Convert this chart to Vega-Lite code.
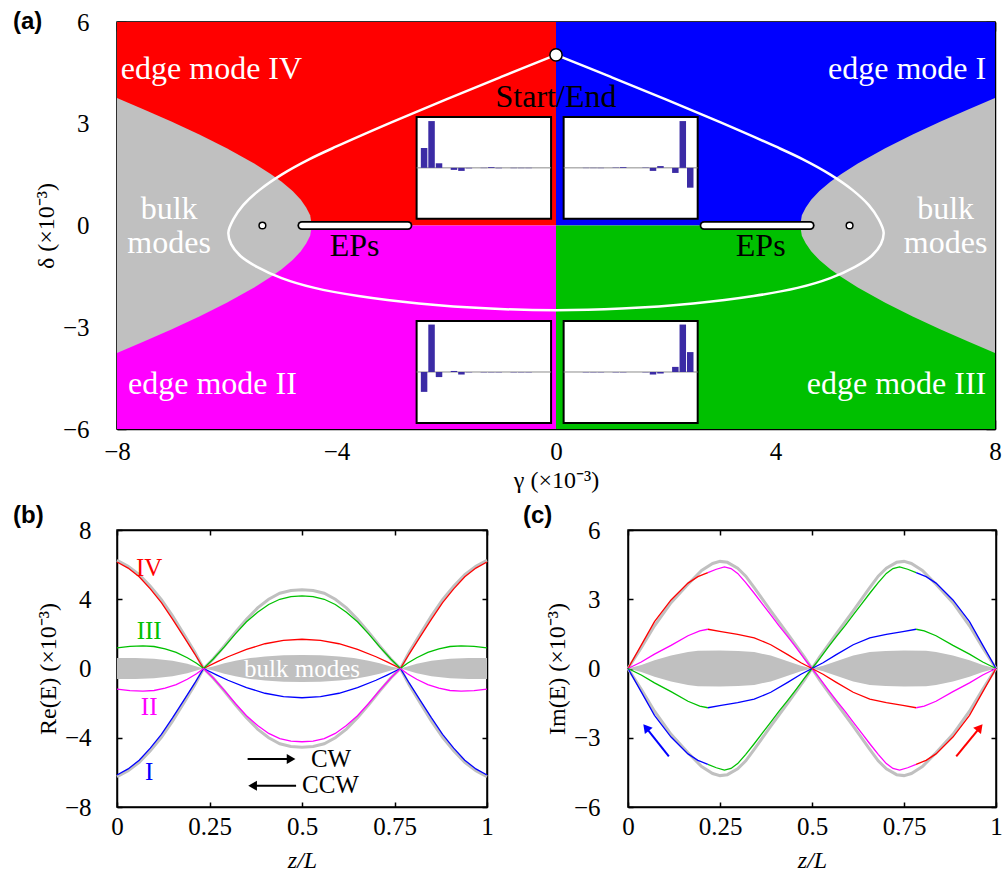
{
"$schema": "https://vega.github.io/schema/vega-lite/v6.json",
"autosize": {"type": "pad"},
"padding": {"left": 12, "top": 8, "right": 0, "bottom": 0},
"background": "white",
"config": {
  "font": "Liberation Serif",
  "view": {"stroke": "black", "strokeWidth": 1.5},
  "axis": {"grid": false, "labelFlush": false, "labelOverlap": false, "domainColor": "black", "domainWidth": 1.5, "tickColor": "black", "tickWidth": 1.5, "labelFont": "Liberation Serif", "labelFontSize": 25, "labelColor": "black", "titleFont": "Liberation Serif", "titleFontSize": 24, "titleFontWeight": "normal", "titleColor": "black", "zindex": 1}
},
"datasets": {
  "quad": [
    {"g0": -8, "g1": 0, "d0": 0, "d1": 6, "mode": "IV"},
    {"g0": 0, "g1": 8, "d0": 0, "d1": 6, "mode": "I"},
    {"g0": -8, "g1": 0, "d0": -6, "d1": 0, "mode": "II"},
    {"g0": 0, "g1": 8, "d0": -6, "d1": 0, "mode": "III"}
  ],
  "bulkA": [
    {"side": "L", "g": -8, "hi": 3.76, "lo": -3.76},
    {"side": "L", "g": -7.5, "hi": 3.41, "lo": -3.41},
    {"side": "L", "g": -7, "hi": 3.06, "lo": -3.06},
    {"side": "L", "g": -6.5, "hi": 2.68, "lo": -2.68},
    {"side": "L", "g": -6, "hi": 2.28, "lo": -2.28},
    {"side": "L", "g": -5.5, "hi": 1.83, "lo": -1.83},
    {"side": "L", "g": -5.2, "hi": 1.52, "lo": -1.52},
    {"side": "L", "g": -5, "hi": 1.29, "lo": -1.29},
    {"side": "L", "g": -4.8, "hi": 1.02, "lo": -1.02},
    {"side": "L", "g": -4.65, "hi": 0.76, "lo": -0.76},
    {"side": "L", "g": -4.55, "hi": 0.52, "lo": -0.52},
    {"side": "L", "g": -4.48, "hi": 0.3, "lo": -0.3},
    {"side": "L", "g": -4.45, "hi": 0, "lo": 0},
    {"side": "R", "g": 4.45, "hi": 0, "lo": 0},
    {"side": "R", "g": 4.48, "hi": 0.3, "lo": -0.3},
    {"side": "R", "g": 4.55, "hi": 0.52, "lo": -0.52},
    {"side": "R", "g": 4.65, "hi": 0.76, "lo": -0.76},
    {"side": "R", "g": 4.8, "hi": 1.02, "lo": -1.02},
    {"side": "R", "g": 5, "hi": 1.29, "lo": -1.29},
    {"side": "R", "g": 5.2, "hi": 1.52, "lo": -1.52},
    {"side": "R", "g": 5.5, "hi": 1.83, "lo": -1.83},
    {"side": "R", "g": 6, "hi": 2.28, "lo": -2.28},
    {"side": "R", "g": 6.5, "hi": 2.68, "lo": -2.68},
    {"side": "R", "g": 7, "hi": 3.06, "lo": -3.06},
    {"side": "R", "g": 7.5, "hi": 3.41, "lo": -3.41},
    {"side": "R", "g": 8, "hi": 3.76, "lo": -3.76}
  ],
  "loop": [
    {"o": 1, "g": 0, "d": 5.03}, {"o": 2, "g": -1, "d": 4.38}, {"o": 3, "g": -2, "d": 3.72}, {"o": 4, "g": -3, "d": 3.04},
    {"o": 5, "g": -4, "d": 2.33}, {"o": 6, "g": -4.5, "d": 1.95}, {"o": 7, "g": -5, "d": 1.5}, {"o": 8, "g": -5.4, "d": 1.05},
    {"o": 9, "g": -5.7, "d": 0.6}, {"o": 10, "g": -5.88, "d": 0.18}, {"o": 11, "g": -5.97, "d": -0.2}, {"o": 12, "g": -5.92, "d": -0.55},
    {"o": 13, "g": -5.75, "d": -0.9}, {"o": 14, "g": -5.45, "d": -1.22}, {"o": 15, "g": -5, "d": -1.55}, {"o": 16, "g": -4.4, "d": -1.84},
    {"o": 17, "g": -3.6, "d": -2.08}, {"o": 18, "g": -2.5, "d": -2.3}, {"o": 19, "g": -1.2, "d": -2.45}, {"o": 20, "g": 0, "d": -2.5},
    {"o": 21, "g": 1.2, "d": -2.45}, {"o": 22, "g": 2.5, "d": -2.3}, {"o": 23, "g": 3.6, "d": -2.08}, {"o": 24, "g": 4.4, "d": -1.84},
    {"o": 25, "g": 5, "d": -1.55}, {"o": 26, "g": 5.45, "d": -1.22}, {"o": 27, "g": 5.75, "d": -0.9}, {"o": 28, "g": 5.92, "d": -0.55},
    {"o": 29, "g": 5.97, "d": -0.2}, {"o": 30, "g": 5.88, "d": 0.18}, {"o": 31, "g": 5.7, "d": 0.6}, {"o": 32, "g": 5.4, "d": 1.05},
    {"o": 33, "g": 5, "d": 1.5}, {"o": 34, "g": 4.5, "d": 1.95}, {"o": 35, "g": 4, "d": 2.33}, {"o": 36, "g": 3, "d": 3.04},
    {"o": 37, "g": 2, "d": 3.72}, {"o": 38, "g": 1, "d": 4.38}, {"o": 39, "g": 0, "d": 5.03}
  ],
  "eps": [{"g0": -4.63, "g1": -2.7, "d": 0}, {"g0": 2.7, "g1": 4.63, "d": 0}],
  "epc": [{"g": -5.35, "d": 0}, {"g": 5.35, "d": 0}],
  "start": [{"g": 0, "d": 5.03}],
  "txtWL": [{"g": -7.93, "d": 4.33, "t": "edge mode IV"}, {"g": -7.8, "d": -4.98, "t": "edge mode II"}],
  "txtWR": [{"g": 7.84, "d": 4.33, "t": "edge mode I"}, {"g": 7.84, "d": -4.98, "t": "edge mode III"}],
  "txtWC": [{"g": -7.05, "d": 0.18, "t": "bulk"}, {"g": -7.05, "d": -0.8, "t": "modes"}, {"g": 7.1, "d": 0.18, "t": "bulk"}, {"g": 7.1, "d": -0.8, "t": "modes"}],
  "txtBC": [{"g": 0, "d": 3.5, "t": "Start/End"}, {"g": -3.67, "d": -0.89, "t": "EPs"}, {"g": 3.73, "d": -0.89, "t": "EPs"}],
  "box": [{"s0": 0, "s1": 18, "a0": -1, "a1": 1}],
  "ins": [
    {"k": "TL", "s": 1, "a": 0.39}, {"k": "TL", "s": 2, "a": 0.92}, {"k": "TL", "s": 3, "a": 0.09}, {"k": "TL", "s": 5, "a": -0.04},
    {"k": "TL", "s": 6, "a": -0.06}, {"k": "TL", "s": 7, "a": -0.01}, {"k": "TL", "s": 9, "a": -0.005}, {"k": "TL", "s": 10, "a": 0.015},
    {"k": "TL", "s": 11, "a": -0.008}, {"k": "TL", "s": 13, "a": -0.006}, {"k": "TL", "s": 14, "a": -0.006}, {"k": "TL", "s": 15, "a": -0.006},
    {"k": "TR", "s": 3, "a": -0.005}, {"k": "TR", "s": 4, "a": -0.005}, {"k": "TR", "s": 5, "a": -0.006}, {"k": "TR", "s": 7, "a": 0.006},
    {"k": "TR", "s": 8, "a": 0.015}, {"k": "TR", "s": 11, "a": 0.006}, {"k": "TR", "s": 12, "a": -0.06}, {"k": "TR", "s": 13, "a": 0.035},
    {"k": "TR", "s": 15, "a": -0.1}, {"k": "TR", "s": 16, "a": 0.92}, {"k": "TR", "s": 17, "a": -0.39},
    {"k": "BL", "s": 1, "a": -0.39}, {"k": "BL", "s": 2, "a": 0.93}, {"k": "BL", "s": 3, "a": -0.1}, {"k": "BL", "s": 5, "a": 0.02},
    {"k": "BL", "s": 6, "a": -0.05}, {"k": "BL", "s": 7, "a": -0.006}, {"k": "BL", "s": 9, "a": -0.006}, {"k": "BL", "s": 10, "a": -0.006},
    {"k": "BL", "s": 11, "a": -0.006}, {"k": "BL", "s": 13, "a": -0.006}, {"k": "BL", "s": 14, "a": -0.006}, {"k": "BL", "s": 15, "a": -0.006},
    {"k": "BR", "s": 3, "a": -0.006}, {"k": "BR", "s": 4, "a": -0.006}, {"k": "BR", "s": 5, "a": -0.006}, {"k": "BR", "s": 7, "a": -0.006},
    {"k": "BR", "s": 8, "a": -0.006}, {"k": "BR", "s": 11, "a": -0.006}, {"k": "BR", "s": 12, "a": -0.05}, {"k": "BR", "s": 13, "a": -0.03},
    {"k": "BR", "s": 15, "a": 0.1}, {"k": "BR", "s": 16, "a": 0.93}, {"k": "BR", "s": 17, "a": 0.39}
  ],
  "bG": [
    {"s": "gU", "z": 0, "v": 6.25}, {"s": "gU", "z": 0.03, "v": 5.9}, {"s": "gU", "z": 0.06, "v": 5.42}, {"s": "gU", "z": 0.09, "v": 4.75},
    {"s": "gU", "z": 0.12, "v": 3.98}, {"s": "gU", "z": 0.15, "v": 3.05}, {"s": "gU", "z": 0.18, "v": 2.0}, {"s": "gU", "z": 0.21, "v": 0.95},
    {"s": "gU", "z": 0.234, "v": 0}, {"s": "gU", "z": 0.26, "v": 0.55}, {"s": "gU", "z": 0.29, "v": 1.3}, {"s": "gU", "z": 0.32, "v": 2.1},
    {"s": "gU", "z": 0.35, "v": 2.85}, {"s": "gU", "z": 0.38, "v": 3.5}, {"s": "gU", "z": 0.41, "v": 4.0}, {"s": "gU", "z": 0.44, "v": 4.35},
    {"s": "gU", "z": 0.47, "v": 4.5}, {"s": "gU", "z": 0.5, "v": 4.55}, {"s": "gU", "z": 0.53, "v": 4.5}, {"s": "gU", "z": 0.56, "v": 4.35},
    {"s": "gU", "z": 0.59, "v": 4.0}, {"s": "gU", "z": 0.62, "v": 3.5}, {"s": "gU", "z": 0.65, "v": 2.85}, {"s": "gU", "z": 0.68, "v": 2.1},
    {"s": "gU", "z": 0.71, "v": 1.3}, {"s": "gU", "z": 0.74, "v": 0.55}, {"s": "gU", "z": 0.766, "v": 0}, {"s": "gU", "z": 0.79, "v": 0.95},
    {"s": "gU", "z": 0.82, "v": 2.0}, {"s": "gU", "z": 0.85, "v": 3.05}, {"s": "gU", "z": 0.88, "v": 3.98}, {"s": "gU", "z": 0.91, "v": 4.75},
    {"s": "gU", "z": 0.94, "v": 5.42}, {"s": "gU", "z": 0.97, "v": 5.9}, {"s": "gU", "z": 1, "v": 6.25},
    {"s": "gL", "z": 0, "v": -6.25}, {"s": "gL", "z": 0.03, "v": -5.9}, {"s": "gL", "z": 0.06, "v": -5.42}, {"s": "gL", "z": 0.09, "v": -4.75},
    {"s": "gL", "z": 0.12, "v": -3.98}, {"s": "gL", "z": 0.15, "v": -3.05}, {"s": "gL", "z": 0.18, "v": -2.0}, {"s": "gL", "z": 0.21, "v": -0.95},
    {"s": "gL", "z": 0.234, "v": 0}, {"s": "gL", "z": 0.26, "v": -0.55}, {"s": "gL", "z": 0.29, "v": -1.3}, {"s": "gL", "z": 0.32, "v": -2.1},
    {"s": "gL", "z": 0.35, "v": -2.85}, {"s": "gL", "z": 0.38, "v": -3.5}, {"s": "gL", "z": 0.41, "v": -4.0}, {"s": "gL", "z": 0.44, "v": -4.35},
    {"s": "gL", "z": 0.47, "v": -4.5}, {"s": "gL", "z": 0.5, "v": -4.55}, {"s": "gL", "z": 0.53, "v": -4.5}, {"s": "gL", "z": 0.56, "v": -4.35},
    {"s": "gL", "z": 0.59, "v": -4.0}, {"s": "gL", "z": 0.62, "v": -3.5}, {"s": "gL", "z": 0.65, "v": -2.85}, {"s": "gL", "z": 0.68, "v": -2.1},
    {"s": "gL", "z": 0.71, "v": -1.3}, {"s": "gL", "z": 0.74, "v": -0.55}, {"s": "gL", "z": 0.766, "v": 0}, {"s": "gL", "z": 0.79, "v": -0.95},
    {"s": "gL", "z": 0.82, "v": -2.0}, {"s": "gL", "z": 0.85, "v": -3.05}, {"s": "gL", "z": 0.88, "v": -3.98}, {"s": "gL", "z": 0.91, "v": -4.75},
    {"s": "gL", "z": 0.94, "v": -5.42}, {"s": "gL", "z": 0.97, "v": -5.9}, {"s": "gL", "z": 1, "v": -6.25}
  ],
  "bBand": [
    {"z": 0, "hi": 0.6, "lo": -0.6}, {"z": 0.05, "hi": 0.6, "lo": -0.6}, {"z": 0.1, "hi": 0.56, "lo": -0.56}, {"z": 0.15, "hi": 0.45, "lo": -0.45},
    {"z": 0.19, "hi": 0.28, "lo": -0.28}, {"z": 0.215, "hi": 0.12, "lo": -0.12}, {"z": 0.234, "hi": 0, "lo": 0}, {"z": 0.26, "hi": 0.12, "lo": -0.12},
    {"z": 0.29, "hi": 0.3, "lo": -0.3}, {"z": 0.32, "hi": 0.45, "lo": -0.45}, {"z": 0.36, "hi": 0.6, "lo": -0.6}, {"z": 0.4, "hi": 0.7, "lo": -0.7},
    {"z": 0.45, "hi": 0.76, "lo": -0.76}, {"z": 0.5, "hi": 0.78, "lo": -0.78}, {"z": 0.55, "hi": 0.76, "lo": -0.76}, {"z": 0.6, "hi": 0.7, "lo": -0.7},
    {"z": 0.64, "hi": 0.6, "lo": -0.6}, {"z": 0.68, "hi": 0.45, "lo": -0.45}, {"z": 0.71, "hi": 0.3, "lo": -0.3}, {"z": 0.74, "hi": 0.12, "lo": -0.12},
    {"z": 0.766, "hi": 0, "lo": 0}, {"z": 0.785, "hi": 0.12, "lo": -0.12}, {"z": 0.81, "hi": 0.28, "lo": -0.28}, {"z": 0.85, "hi": 0.45, "lo": -0.45},
    {"z": 0.9, "hi": 0.56, "lo": -0.56}, {"z": 0.95, "hi": 0.6, "lo": -0.6}, {"z": 1, "hi": 0.6, "lo": -0.6}
  ],
  "bL": [
    {"mode": "IV", "z": 0, "v": 6.15}, {"mode": "IV", "z": 0.03, "v": 5.8}, {"mode": "IV", "z": 0.06, "v": 5.3}, {"mode": "IV", "z": 0.09, "v": 4.6},
    {"mode": "IV", "z": 0.12, "v": 3.8}, {"mode": "IV", "z": 0.15, "v": 2.85}, {"mode": "IV", "z": 0.18, "v": 1.85}, {"mode": "IV", "z": 0.21, "v": 0.85},
    {"mode": "IV", "z": 0.234, "v": 0}, {"mode": "IV", "z": 0.27, "v": 0.38}, {"mode": "IV", "z": 0.3, "v": 0.68}, {"mode": "IV", "z": 0.35, "v": 1.1},
    {"mode": "IV", "z": 0.4, "v": 1.43}, {"mode": "IV", "z": 0.45, "v": 1.63}, {"mode": "IV", "z": 0.5, "v": 1.69}, {"mode": "IV", "z": 0.55, "v": 1.63},
    {"mode": "IV", "z": 0.6, "v": 1.43}, {"mode": "IV", "z": 0.65, "v": 1.1}, {"mode": "IV", "z": 0.7, "v": 0.68}, {"mode": "IV", "z": 0.73, "v": 0.38},
    {"mode": "IV", "z": 0.766, "v": 0}, {"mode": "IV", "z": 0.79, "v": 0.85}, {"mode": "IV", "z": 0.82, "v": 1.85}, {"mode": "IV", "z": 0.85, "v": 2.85},
    {"mode": "IV", "z": 0.88, "v": 3.8}, {"mode": "IV", "z": 0.91, "v": 4.6}, {"mode": "IV", "z": 0.94, "v": 5.3}, {"mode": "IV", "z": 0.97, "v": 5.8},
    {"mode": "IV", "z": 1, "v": 6.15},
    {"mode": "I", "z": 0, "v": -6.15}, {"mode": "I", "z": 0.03, "v": -5.8}, {"mode": "I", "z": 0.06, "v": -5.3}, {"mode": "I", "z": 0.09, "v": -4.6},
    {"mode": "I", "z": 0.12, "v": -3.8}, {"mode": "I", "z": 0.15, "v": -2.85}, {"mode": "I", "z": 0.18, "v": -1.85}, {"mode": "I", "z": 0.21, "v": -0.85},
    {"mode": "I", "z": 0.234, "v": 0}, {"mode": "I", "z": 0.27, "v": -0.38}, {"mode": "I", "z": 0.3, "v": -0.68}, {"mode": "I", "z": 0.35, "v": -1.1},
    {"mode": "I", "z": 0.4, "v": -1.43}, {"mode": "I", "z": 0.45, "v": -1.63}, {"mode": "I", "z": 0.5, "v": -1.69}, {"mode": "I", "z": 0.55, "v": -1.63},
    {"mode": "I", "z": 0.6, "v": -1.43}, {"mode": "I", "z": 0.65, "v": -1.1}, {"mode": "I", "z": 0.7, "v": -0.68}, {"mode": "I", "z": 0.73, "v": -0.38},
    {"mode": "I", "z": 0.766, "v": 0}, {"mode": "I", "z": 0.79, "v": -0.85}, {"mode": "I", "z": 0.82, "v": -1.85}, {"mode": "I", "z": 0.85, "v": -2.85},
    {"mode": "I", "z": 0.88, "v": -3.8}, {"mode": "I", "z": 0.91, "v": -4.6}, {"mode": "I", "z": 0.94, "v": -5.3}, {"mode": "I", "z": 0.97, "v": -5.8},
    {"mode": "I", "z": 1, "v": -6.15},
    {"mode": "III", "z": 0, "v": 1.19}, {"mode": "III", "z": 0.035, "v": 1.28}, {"mode": "III", "z": 0.07, "v": 1.31}, {"mode": "III", "z": 0.1, "v": 1.27},
    {"mode": "III", "z": 0.13, "v": 1.14}, {"mode": "III", "z": 0.16, "v": 0.93}, {"mode": "III", "z": 0.19, "v": 0.62}, {"mode": "III", "z": 0.215, "v": 0.3},
    {"mode": "III", "z": 0.234, "v": 0}, {"mode": "III", "z": 0.26, "v": 0.55}, {"mode": "III", "z": 0.29, "v": 1.25}, {"mode": "III", "z": 0.32, "v": 2.0},
    {"mode": "III", "z": 0.35, "v": 2.7}, {"mode": "III", "z": 0.38, "v": 3.25}, {"mode": "III", "z": 0.41, "v": 3.7}, {"mode": "III", "z": 0.44, "v": 4.0},
    {"mode": "III", "z": 0.47, "v": 4.15}, {"mode": "III", "z": 0.5, "v": 4.19}, {"mode": "III", "z": 0.53, "v": 4.15}, {"mode": "III", "z": 0.56, "v": 4.0},
    {"mode": "III", "z": 0.59, "v": 3.7}, {"mode": "III", "z": 0.62, "v": 3.25}, {"mode": "III", "z": 0.65, "v": 2.7}, {"mode": "III", "z": 0.68, "v": 2.0},
    {"mode": "III", "z": 0.71, "v": 1.25}, {"mode": "III", "z": 0.74, "v": 0.55}, {"mode": "III", "z": 0.766, "v": 0}, {"mode": "III", "z": 0.785, "v": 0.3},
    {"mode": "III", "z": 0.81, "v": 0.62}, {"mode": "III", "z": 0.84, "v": 0.93}, {"mode": "III", "z": 0.87, "v": 1.14}, {"mode": "III", "z": 0.9, "v": 1.27},
    {"mode": "III", "z": 0.93, "v": 1.31}, {"mode": "III", "z": 0.965, "v": 1.28}, {"mode": "III", "z": 1, "v": 1.19},
    {"mode": "II", "z": 0, "v": -1.19}, {"mode": "II", "z": 0.035, "v": -1.28}, {"mode": "II", "z": 0.07, "v": -1.31}, {"mode": "II", "z": 0.1, "v": -1.27},
    {"mode": "II", "z": 0.13, "v": -1.14}, {"mode": "II", "z": 0.16, "v": -0.93}, {"mode": "II", "z": 0.19, "v": -0.62}, {"mode": "II", "z": 0.215, "v": -0.3},
    {"mode": "II", "z": 0.234, "v": 0}, {"mode": "II", "z": 0.26, "v": -0.55}, {"mode": "II", "z": 0.29, "v": -1.26}, {"mode": "II", "z": 0.32, "v": -2.02},
    {"mode": "II", "z": 0.35, "v": -2.73}, {"mode": "II", "z": 0.38, "v": -3.29}, {"mode": "II", "z": 0.41, "v": -3.75}, {"mode": "II", "z": 0.44, "v": -4.05},
    {"mode": "II", "z": 0.47, "v": -4.2}, {"mode": "II", "z": 0.5, "v": -4.23}, {"mode": "II", "z": 0.53, "v": -4.2}, {"mode": "II", "z": 0.56, "v": -4.05},
    {"mode": "II", "z": 0.59, "v": -3.75}, {"mode": "II", "z": 0.62, "v": -3.29}, {"mode": "II", "z": 0.65, "v": -2.73}, {"mode": "II", "z": 0.68, "v": -2.02},
    {"mode": "II", "z": 0.71, "v": -1.26}, {"mode": "II", "z": 0.74, "v": -0.55}, {"mode": "II", "z": 0.766, "v": 0}, {"mode": "II", "z": 0.785, "v": -0.3},
    {"mode": "II", "z": 0.81, "v": -0.62}, {"mode": "II", "z": 0.84, "v": -0.93}, {"mode": "II", "z": 0.87, "v": -1.14}, {"mode": "II", "z": 0.9, "v": -1.27},
    {"mode": "II", "z": 0.93, "v": -1.31}, {"mode": "II", "z": 0.965, "v": -1.28}, {"mode": "II", "z": 1, "v": -1.19}
  ],
  "bLab": [
    {"mode": "IV", "z": 0.087, "v": 5.83, "t": "IV"}, {"mode": "III", "z": 0.087, "v": 2.17, "t": "III"},
    {"mode": "II", "z": 0.087, "v": -2.25, "t": "II"}, {"mode": "I", "z": 0.087, "v": -6.0, "t": "I"}
  ],
  "bBulk": [{"z": 0.5, "v": -0.5, "t": "bulk modes"}],
  "bArr": [{"dir": "CW", "z0": 0.353, "z1": 0.47, "v": -5.23}, {"dir": "CCW", "z0": 0.367, "z1": 0.484, "v": -6.77}],
  "bHead": [{"dir": "CW", "z": 0.4705, "v": -5.23}, {"dir": "CCW", "z": 0.3665, "v": -6.77}],
  "bTxt": [{"z": 0.524, "v": -5.67, "t": "CW"}, {"z": 0.5, "v": -7.21, "t": "CCW"}],
  "cG": [
    {"s": "gU", "z": 0, "v": 0}, {"s": "gU", "z": 0.036, "v": 0.9}, {"s": "gU", "z": 0.072, "v": 1.85}, {"s": "gU", "z": 0.117, "v": 2.85},
    {"s": "gU", "z": 0.163, "v": 3.65}, {"s": "gU", "z": 0.2, "v": 4.25}, {"s": "gU", "z": 0.23, "v": 4.55}, {"s": "gU", "z": 0.25, "v": 4.64},
    {"s": "gU", "z": 0.27, "v": 4.6}, {"s": "gU", "z": 0.298, "v": 4.35}, {"s": "gU", "z": 0.32, "v": 4.0}, {"s": "gU", "z": 0.343, "v": 3.5},
    {"s": "gU", "z": 0.388, "v": 2.5}, {"s": "gU", "z": 0.434, "v": 1.5}, {"s": "gU", "z": 0.479, "v": 0.5}, {"s": "gU", "z": 0.5, "v": 0},
    {"s": "gU", "z": 0.521, "v": 0.5}, {"s": "gU", "z": 0.566, "v": 1.5}, {"s": "gU", "z": 0.612, "v": 2.5}, {"s": "gU", "z": 0.657, "v": 3.5},
    {"s": "gU", "z": 0.68, "v": 4.0}, {"s": "gU", "z": 0.702, "v": 4.35}, {"s": "gU", "z": 0.73, "v": 4.6}, {"s": "gU", "z": 0.75, "v": 4.64},
    {"s": "gU", "z": 0.77, "v": 4.55}, {"s": "gU", "z": 0.8, "v": 4.25}, {"s": "gU", "z": 0.837, "v": 3.65}, {"s": "gU", "z": 0.883, "v": 2.85},
    {"s": "gU", "z": 0.928, "v": 1.85}, {"s": "gU", "z": 0.964, "v": 0.9}, {"s": "gU", "z": 1, "v": 0},
    {"s": "gL", "z": 0, "v": 0}, {"s": "gL", "z": 0.036, "v": -0.9}, {"s": "gL", "z": 0.072, "v": -1.85}, {"s": "gL", "z": 0.117, "v": -2.85},
    {"s": "gL", "z": 0.163, "v": -3.65}, {"s": "gL", "z": 0.2, "v": -4.25}, {"s": "gL", "z": 0.23, "v": -4.55}, {"s": "gL", "z": 0.25, "v": -4.64},
    {"s": "gL", "z": 0.27, "v": -4.6}, {"s": "gL", "z": 0.298, "v": -4.35}, {"s": "gL", "z": 0.32, "v": -4.0}, {"s": "gL", "z": 0.343, "v": -3.5},
    {"s": "gL", "z": 0.388, "v": -2.5}, {"s": "gL", "z": 0.434, "v": -1.5}, {"s": "gL", "z": 0.479, "v": -0.5}, {"s": "gL", "z": 0.5, "v": 0},
    {"s": "gL", "z": 0.521, "v": -0.5}, {"s": "gL", "z": 0.566, "v": -1.5}, {"s": "gL", "z": 0.612, "v": -2.5}, {"s": "gL", "z": 0.657, "v": -3.5},
    {"s": "gL", "z": 0.68, "v": -4.0}, {"s": "gL", "z": 0.702, "v": -4.35}, {"s": "gL", "z": 0.73, "v": -4.6}, {"s": "gL", "z": 0.75, "v": -4.64},
    {"s": "gL", "z": 0.77, "v": -4.55}, {"s": "gL", "z": 0.8, "v": -4.25}, {"s": "gL", "z": 0.837, "v": -3.65}, {"s": "gL", "z": 0.883, "v": -2.85},
    {"s": "gL", "z": 0.928, "v": -1.85}, {"s": "gL", "z": 0.964, "v": -0.9}, {"s": "gL", "z": 1, "v": 0}
  ],
  "cBand": [
    {"z": 0, "hi": 0, "lo": 0}, {"z": 0.036, "hi": 0.15, "lo": -0.15}, {"z": 0.072, "hi": 0.36, "lo": -0.36}, {"z": 0.117, "hi": 0.56, "lo": -0.56},
    {"z": 0.163, "hi": 0.72, "lo": -0.72}, {"z": 0.19, "hi": 0.77, "lo": -0.77}, {"z": 0.25, "hi": 0.78, "lo": -0.78}, {"z": 0.3, "hi": 0.76, "lo": -0.76},
    {"z": 0.343, "hi": 0.71, "lo": -0.71}, {"z": 0.388, "hi": 0.56, "lo": -0.56}, {"z": 0.434, "hi": 0.31, "lo": -0.31}, {"z": 0.47, "hi": 0.12, "lo": -0.12},
    {"z": 0.5, "hi": 0, "lo": 0}, {"z": 0.53, "hi": 0.12, "lo": -0.12}, {"z": 0.566, "hi": 0.31, "lo": -0.31}, {"z": 0.612, "hi": 0.56, "lo": -0.56},
    {"z": 0.657, "hi": 0.71, "lo": -0.71}, {"z": 0.7, "hi": 0.76, "lo": -0.76}, {"z": 0.75, "hi": 0.78, "lo": -0.78}, {"z": 0.81, "hi": 0.77, "lo": -0.77},
    {"z": 0.837, "hi": 0.72, "lo": -0.72}, {"z": 0.883, "hi": 0.56, "lo": -0.56}, {"z": 0.928, "hi": 0.36, "lo": -0.36}, {"z": 0.964, "hi": 0.15, "lo": -0.15},
    {"z": 1, "hi": 0, "lo": 0}
  ],
  "cL": [
    {"seg": "c1", "mode": "IV", "z": 0, "v": 0}, {"seg": "c1", "mode": "IV", "z": 0.036, "v": 1.01}, {"seg": "c1", "mode": "IV", "z": 0.072, "v": 2.03},
    {"seg": "c1", "mode": "IV", "z": 0.117, "v": 2.97}, {"seg": "c1", "mode": "IV", "z": 0.163, "v": 3.7}, {"seg": "c1", "mode": "IV", "z": 0.19, "v": 3.98},
    {"seg": "c1", "mode": "IV", "z": 0.217, "v": 4.15},
    {"seg": "c2", "mode": "II", "z": 0.217, "v": 4.15}, {"seg": "c2", "mode": "II", "z": 0.24, "v": 4.3}, {"seg": "c2", "mode": "II", "z": 0.262, "v": 4.4},
    {"seg": "c2", "mode": "II", "z": 0.28, "v": 4.33}, {"seg": "c2", "mode": "II", "z": 0.298, "v": 4.12}, {"seg": "c2", "mode": "II", "z": 0.32, "v": 3.72},
    {"seg": "c2", "mode": "II", "z": 0.343, "v": 3.26}, {"seg": "c2", "mode": "II", "z": 0.365, "v": 2.8}, {"seg": "c2", "mode": "II", "z": 0.388, "v": 2.32},
    {"seg": "c2", "mode": "II", "z": 0.41, "v": 1.86}, {"seg": "c2", "mode": "II", "z": 0.434, "v": 1.38}, {"seg": "c2", "mode": "II", "z": 0.457, "v": 0.9},
    {"seg": "c2", "mode": "II", "z": 0.479, "v": 0.43}, {"seg": "c2", "mode": "II", "z": 0.5, "v": 0},
    {"seg": "c3", "mode": "II", "z": 0, "v": 0}, {"seg": "c3", "mode": "II", "z": 0.036, "v": 0.28}, {"seg": "c3", "mode": "II", "z": 0.072, "v": 0.62},
    {"seg": "c3", "mode": "II", "z": 0.117, "v": 1.0}, {"seg": "c3", "mode": "II", "z": 0.163, "v": 1.42}, {"seg": "c3", "mode": "II", "z": 0.195, "v": 1.63},
    {"seg": "c3", "mode": "II", "z": 0.217, "v": 1.7},
    {"seg": "c4", "mode": "IV", "z": 0.217, "v": 1.7}, {"seg": "c4", "mode": "IV", "z": 0.253, "v": 1.6}, {"seg": "c4", "mode": "IV", "z": 0.298, "v": 1.48},
    {"seg": "c4", "mode": "IV", "z": 0.343, "v": 1.33}, {"seg": "c4", "mode": "IV", "z": 0.388, "v": 1.03}, {"seg": "c4", "mode": "IV", "z": 0.434, "v": 0.6},
    {"seg": "c4", "mode": "IV", "z": 0.47, "v": 0.25}, {"seg": "c4", "mode": "IV", "z": 0.5, "v": 0},
    {"seg": "c5", "mode": "I", "z": 0, "v": 0}, {"seg": "c5", "mode": "I", "z": 0.036, "v": -1.01}, {"seg": "c5", "mode": "I", "z": 0.072, "v": -2.03},
    {"seg": "c5", "mode": "I", "z": 0.117, "v": -2.97}, {"seg": "c5", "mode": "I", "z": 0.163, "v": -3.7}, {"seg": "c5", "mode": "I", "z": 0.19, "v": -3.98},
    {"seg": "c5", "mode": "I", "z": 0.217, "v": -4.15},
    {"seg": "c6", "mode": "III", "z": 0.217, "v": -4.15}, {"seg": "c6", "mode": "III", "z": 0.24, "v": -4.3}, {"seg": "c6", "mode": "III", "z": 0.262, "v": -4.4},
    {"seg": "c6", "mode": "III", "z": 0.28, "v": -4.33}, {"seg": "c6", "mode": "III", "z": 0.298, "v": -4.12}, {"seg": "c6", "mode": "III", "z": 0.32, "v": -3.72},
    {"seg": "c6", "mode": "III", "z": 0.343, "v": -3.26}, {"seg": "c6", "mode": "III", "z": 0.365, "v": -2.8}, {"seg": "c6", "mode": "III", "z": 0.388, "v": -2.32},
    {"seg": "c6", "mode": "III", "z": 0.41, "v": -1.86}, {"seg": "c6", "mode": "III", "z": 0.434, "v": -1.38}, {"seg": "c6", "mode": "III", "z": 0.457, "v": -0.9},
    {"seg": "c6", "mode": "III", "z": 0.479, "v": -0.43}, {"seg": "c6", "mode": "III", "z": 0.5, "v": 0},
    {"seg": "c7", "mode": "III", "z": 0, "v": 0}, {"seg": "c7", "mode": "III", "z": 0.036, "v": -0.28}, {"seg": "c7", "mode": "III", "z": 0.072, "v": -0.62},
    {"seg": "c7", "mode": "III", "z": 0.117, "v": -1.0}, {"seg": "c7", "mode": "III", "z": 0.163, "v": -1.42}, {"seg": "c7", "mode": "III", "z": 0.195, "v": -1.63},
    {"seg": "c7", "mode": "III", "z": 0.217, "v": -1.7},
    {"seg": "c8", "mode": "I", "z": 0.217, "v": -1.7}, {"seg": "c8", "mode": "I", "z": 0.253, "v": -1.6}, {"seg": "c8", "mode": "I", "z": 0.298, "v": -1.48},
    {"seg": "c8", "mode": "I", "z": 0.343, "v": -1.33}, {"seg": "c8", "mode": "I", "z": 0.388, "v": -1.03}, {"seg": "c8", "mode": "I", "z": 0.434, "v": -0.6},
    {"seg": "c8", "mode": "I", "z": 0.47, "v": -0.25}, {"seg": "c8", "mode": "I", "z": 0.5, "v": 0},
    {"seg": "c9", "mode": "III", "z": 0.5, "v": 0}, {"seg": "c9", "mode": "III", "z": 0.521, "v": 0.43}, {"seg": "c9", "mode": "III", "z": 0.543, "v": 0.9},
    {"seg": "c9", "mode": "III", "z": 0.566, "v": 1.38}, {"seg": "c9", "mode": "III", "z": 0.59, "v": 1.86}, {"seg": "c9", "mode": "III", "z": 0.612, "v": 2.32},
    {"seg": "c9", "mode": "III", "z": 0.635, "v": 2.8}, {"seg": "c9", "mode": "III", "z": 0.657, "v": 3.26}, {"seg": "c9", "mode": "III", "z": 0.68, "v": 3.72},
    {"seg": "c9", "mode": "III", "z": 0.702, "v": 4.12}, {"seg": "c9", "mode": "III", "z": 0.72, "v": 4.33}, {"seg": "c9", "mode": "III", "z": 0.738, "v": 4.4},
    {"seg": "c9", "mode": "III", "z": 0.76, "v": 4.3}, {"seg": "c9", "mode": "III", "z": 0.783, "v": 4.15},
    {"seg": "c10", "mode": "I", "z": 0.783, "v": 4.15}, {"seg": "c10", "mode": "I", "z": 0.81, "v": 3.98}, {"seg": "c10", "mode": "I", "z": 0.837, "v": 3.7},
    {"seg": "c10", "mode": "I", "z": 0.883, "v": 2.97}, {"seg": "c10", "mode": "I", "z": 0.928, "v": 2.03}, {"seg": "c10", "mode": "I", "z": 0.964, "v": 1.01},
    {"seg": "c10", "mode": "I", "z": 1, "v": 0},
    {"seg": "c11", "mode": "I", "z": 0.5, "v": 0}, {"seg": "c11", "mode": "I", "z": 0.53, "v": 0.25}, {"seg": "c11", "mode": "I", "z": 0.566, "v": 0.6},
    {"seg": "c11", "mode": "I", "z": 0.612, "v": 1.03}, {"seg": "c11", "mode": "I", "z": 0.657, "v": 1.33}, {"seg": "c11", "mode": "I", "z": 0.702, "v": 1.48},
    {"seg": "c11", "mode": "I", "z": 0.747, "v": 1.6}, {"seg": "c11", "mode": "I", "z": 0.783, "v": 1.7},
    {"seg": "c12", "mode": "III", "z": 0.783, "v": 1.7}, {"seg": "c12", "mode": "III", "z": 0.805, "v": 1.63}, {"seg": "c12", "mode": "III", "z": 0.837, "v": 1.42},
    {"seg": "c12", "mode": "III", "z": 0.883, "v": 1.0}, {"seg": "c12", "mode": "III", "z": 0.928, "v": 0.62}, {"seg": "c12", "mode": "III", "z": 0.964, "v": 0.28},
    {"seg": "c12", "mode": "III", "z": 1, "v": 0},
    {"seg": "c13", "mode": "II", "z": 0.5, "v": 0}, {"seg": "c13", "mode": "II", "z": 0.521, "v": -0.43}, {"seg": "c13", "mode": "II", "z": 0.543, "v": -0.9},
    {"seg": "c13", "mode": "II", "z": 0.566, "v": -1.38}, {"seg": "c13", "mode": "II", "z": 0.59, "v": -1.86}, {"seg": "c13", "mode": "II", "z": 0.612, "v": -2.32},
    {"seg": "c13", "mode": "II", "z": 0.635, "v": -2.8}, {"seg": "c13", "mode": "II", "z": 0.657, "v": -3.26}, {"seg": "c13", "mode": "II", "z": 0.68, "v": -3.72},
    {"seg": "c13", "mode": "II", "z": 0.702, "v": -4.12}, {"seg": "c13", "mode": "II", "z": 0.72, "v": -4.33}, {"seg": "c13", "mode": "II", "z": 0.738, "v": -4.4},
    {"seg": "c13", "mode": "II", "z": 0.76, "v": -4.3}, {"seg": "c13", "mode": "II", "z": 0.783, "v": -4.15},
    {"seg": "c14", "mode": "IV", "z": 0.783, "v": -4.15}, {"seg": "c14", "mode": "IV", "z": 0.81, "v": -3.98}, {"seg": "c14", "mode": "IV", "z": 0.837, "v": -3.7},
    {"seg": "c14", "mode": "IV", "z": 0.883, "v": -2.97}, {"seg": "c14", "mode": "IV", "z": 0.928, "v": -2.03}, {"seg": "c14", "mode": "IV", "z": 0.964, "v": -1.01},
    {"seg": "c14", "mode": "IV", "z": 1, "v": 0},
    {"seg": "c15", "mode": "IV", "z": 0.5, "v": 0}, {"seg": "c15", "mode": "IV", "z": 0.53, "v": -0.25}, {"seg": "c15", "mode": "IV", "z": 0.566, "v": -0.6},
    {"seg": "c15", "mode": "IV", "z": 0.612, "v": -1.03}, {"seg": "c15", "mode": "IV", "z": 0.657, "v": -1.33}, {"seg": "c15", "mode": "IV", "z": 0.702, "v": -1.48},
    {"seg": "c15", "mode": "IV", "z": 0.747, "v": -1.6}, {"seg": "c15", "mode": "IV", "z": 0.783, "v": -1.7},
    {"seg": "c16", "mode": "II", "z": 0.783, "v": -1.7}, {"seg": "c16", "mode": "II", "z": 0.805, "v": -1.63}, {"seg": "c16", "mode": "II", "z": 0.837, "v": -1.42},
    {"seg": "c16", "mode": "II", "z": 0.883, "v": -1.0}, {"seg": "c16", "mode": "II", "z": 0.928, "v": -0.62}, {"seg": "c16", "mode": "II", "z": 0.964, "v": -0.28},
    {"seg": "c16", "mode": "II", "z": 1, "v": 0}
  ],
  "cArr": [{"mode": "I", "z0": 0.111, "v0": -3.81, "z1": 0.049, "v1": -2.56}, {"mode": "IV", "z0": 0.892, "v0": -3.81, "z1": 0.956, "v1": -2.56}],
  "cHead": [{"mode": "I", "z": 0.049, "v": -2.56}, {"mode": "IV", "z": 0.956, "v": -2.56}]
},
"vconcat": [
  {
    "width": 878, "height": 407,
    "title": {"text": "(a)", "anchor": "start", "frame": "group", "dx": -104, "dy": 23, "offset": -19.5, "baseline": "alphabetic", "font": "Liberation Sans", "fontWeight": "bold", "fontSize": 24, "color": "black"},
    "resolve": {"scale": {"x": "independent", "y": "independent"}},
    "layer": [
      {
        "resolve": {"axis": {"x": "independent", "y": "independent"}},
        "layer": [
          {"data": {"name": "quad"}, "mark": {"type": "rect"},
           "encoding": {
             "x": {"field": "g0", "type": "quantitative", "scale": {"domain": [-8, 8], "nice": false, "zero": false}, "axis": {"orient": "top", "values": [-8, -4, 0, 4, 8], "labels": false, "title": null, "tickSize": -9}},
             "x2": {"field": "g1"},
             "y": {"field": "d0", "type": "quantitative", "scale": {"domain": [-6, 6], "nice": false, "zero": false}, "axis": {"orient": "right", "values": [-6, -3, 0, 3, 6], "labels": false, "title": null, "tickSize": -9}},
             "y2": {"field": "d1"},
             "color": {"field": "mode", "type": "nominal", "scale": {"domain": ["I", "II", "III", "IV"], "range": ["#0000ff", "#ff00ff", "#00c000", "#ff0000"]}, "legend": null}
           }},
          {"layer": [
            {"data": {"name": "bulkA"}, "mark": {"type": "area", "color": "#c0c0c0", "opacity": 1},
             "encoding": {
               "x": {"field": "g", "type": "quantitative", "axis": {"orient": "bottom", "values": [-8, -4, 0, 4, 8], "format": "~g", "tickSize": -9, "labelPadding": 19, "title": "γ (×10⁻³)", "titlePadding": 4, "labelFont": "Liberation Serif", "titleFont": "Liberation Serif", "labelFontSize": 25, "titleFontSize": 24}},
               "y": {"field": "hi", "type": "quantitative", "axis": {"orient": "left", "values": [-6, -3, 0, 3, 6], "format": "~g", "tickSize": -9, "labelPadding": 37, "title": "δ (×10⁻³)", "titlePadding": 4, "labelFont": "Liberation Serif", "titleFont": "Liberation Serif", "labelFontSize": 25, "titleFontSize": 24}},
               "y2": {"field": "lo"},
               "detail": {"field": "side"}
             }},
            {"data": {"name": "loop"}, "mark": {"type": "line", "color": "white", "strokeWidth": 2.5, "interpolate": "catmull-rom"},
             "encoding": {"x": {"field": "g", "type": "quantitative"}, "y": {"field": "d", "type": "quantitative"}, "order": {"field": "o", "type": "quantitative"}}},
            {"data": {"name": "eps"}, "mark": {"type": "rule", "color": "black", "strokeWidth": 9, "strokeCap": "round"},
             "encoding": {"x": {"field": "g0", "type": "quantitative"}, "x2": {"field": "g1"}, "y": {"field": "d", "type": "quantitative"}}},
            {"data": {"name": "eps"}, "mark": {"type": "rule", "color": "white", "strokeWidth": 5.5, "strokeCap": "round"},
             "encoding": {"x": {"field": "g0", "type": "quantitative"}, "x2": {"field": "g1"}, "y": {"field": "d", "type": "quantitative"}}},
            {"data": {"name": "epc"}, "mark": {"type": "point", "shape": "circle", "filled": true, "fill": "white", "stroke": "black", "strokeWidth": 1.5, "size": 45, "opacity": 1},
             "encoding": {"x": {"field": "g", "type": "quantitative"}, "y": {"field": "d", "type": "quantitative"}}},
            {"data": {"name": "start"}, "mark": {"type": "point", "shape": "circle", "filled": true, "fill": "white", "stroke": "black", "strokeWidth": 1.5, "size": 150, "opacity": 1},
             "encoding": {"x": {"field": "g", "type": "quantitative"}, "y": {"field": "d", "type": "quantitative"}}},
            {"data": {"name": "txtWL"}, "mark": {"type": "text", "color": "white", "fontSize": 32, "font": "Liberation Serif", "align": "left", "baseline": "alphabetic"},
             "encoding": {"x": {"field": "g", "type": "quantitative"}, "y": {"field": "d", "type": "quantitative"}, "text": {"field": "t"}}},
            {"data": {"name": "txtWR"}, "mark": {"type": "text", "color": "white", "fontSize": 32, "font": "Liberation Serif", "align": "right", "baseline": "alphabetic"},
             "encoding": {"x": {"field": "g", "type": "quantitative"}, "y": {"field": "d", "type": "quantitative"}, "text": {"field": "t"}}},
            {"data": {"name": "txtWC"}, "mark": {"type": "text", "color": "white", "fontSize": 32, "font": "Liberation Serif", "align": "center", "baseline": "alphabetic"},
             "encoding": {"x": {"field": "g", "type": "quantitative"}, "y": {"field": "d", "type": "quantitative"}, "text": {"field": "t"}}},
            {"data": {"name": "txtBC"}, "mark": {"type": "text", "color": "black", "fontSize": 32, "font": "Liberation Serif", "align": "center", "baseline": "alphabetic"},
             "encoding": {"x": {"field": "g", "type": "quantitative"}, "y": {"field": "d", "type": "quantitative"}, "text": {"field": "t"}}}
          ]}
        ]
      },
      {"layer": [
        {"data": {"name": "box"}, "mark": {"type": "rect", "fill": "white", "stroke": "black", "strokeWidth": 2},
         "encoding": {"x": {"field": "s0", "type": "quantitative", "scale": {"domain": [-39.44, 76.76], "nice": false, "zero": false}, "axis": null}, "x2": {"field": "s1"},
                      "y": {"field": "a0", "type": "quantitative", "scale": {"domain": [-5.137, 2.869], "nice": false, "zero": false}, "axis": null}, "y2": {"field": "a1"}}},
        {"data": {"name": "box"}, "mark": {"type": "rule", "color": "#8c8c8c", "strokeWidth": 1},
         "encoding": {"x": {"field": "s0", "type": "quantitative", "axis": null}, "x2": {"field": "s1"}, "y": {"datum": 0, "type": "quantitative", "axis": null}}},
        {"data": {"name": "ins"}, "transform": [{"filter": "datum.k == 'TL'"}], "mark": {"type": "bar", "color": "#3b2ba5", "width": 6.5},
         "encoding": {"x": {"field": "s", "type": "quantitative", "axis": null}, "y": {"field": "a", "type": "quantitative", "axis": null}, "y2": {"datum": 0}}}
      ]},
      {"layer": [
        {"data": {"name": "box"}, "mark": {"type": "rect", "fill": "white", "stroke": "black", "strokeWidth": 2},
         "encoding": {"x": {"field": "s0", "type": "quantitative", "scale": {"domain": [-59.3, 57.25], "nice": false, "zero": false}, "axis": null}, "x2": {"field": "s1"},
                      "y": {"field": "a0", "type": "quantitative", "scale": {"domain": [-5.137, 2.869], "nice": false, "zero": false}, "axis": null}, "y2": {"field": "a1"}}},
        {"data": {"name": "box"}, "mark": {"type": "rule", "color": "#8c8c8c", "strokeWidth": 1},
         "encoding": {"x": {"field": "s0", "type": "quantitative", "axis": null}, "x2": {"field": "s1"}, "y": {"datum": 0, "type": "quantitative", "axis": null}}},
        {"data": {"name": "ins"}, "transform": [{"filter": "datum.k == 'TR'"}], "mark": {"type": "bar", "color": "#3b2ba5", "width": 6.5},
         "encoding": {"x": {"field": "s", "type": "quantitative", "axis": null}, "y": {"field": "a", "type": "quantitative", "axis": null}, "y2": {"datum": 0}}}
      ]},
      {"layer": [
        {"data": {"name": "box"}, "mark": {"type": "rect", "fill": "white", "stroke": "black", "strokeWidth": 2},
         "encoding": {"x": {"field": "s0", "type": "quantitative", "scale": {"domain": [-39.44, 76.76], "nice": false, "zero": false}, "axis": null}, "x2": {"field": "s1"},
                      "y": {"field": "a0", "type": "quantitative", "scale": {"domain": [-1.118, 6.863], "nice": false, "zero": false}, "axis": null}, "y2": {"field": "a1"}}},
        {"data": {"name": "box"}, "mark": {"type": "rule", "color": "#8c8c8c", "strokeWidth": 1},
         "encoding": {"x": {"field": "s0", "type": "quantitative", "axis": null}, "x2": {"field": "s1"}, "y": {"datum": 0, "type": "quantitative", "axis": null}}},
        {"data": {"name": "ins"}, "transform": [{"filter": "datum.k == 'BL'"}], "mark": {"type": "bar", "color": "#3b2ba5", "width": 6.5},
         "encoding": {"x": {"field": "s", "type": "quantitative", "axis": null}, "y": {"field": "a", "type": "quantitative", "axis": null}, "y2": {"datum": 0}}}
      ]},
      {"layer": [
        {"data": {"name": "box"}, "mark": {"type": "rect", "fill": "white", "stroke": "black", "strokeWidth": 2},
         "encoding": {"x": {"field": "s0", "type": "quantitative", "scale": {"domain": [-59.3, 57.25], "nice": false, "zero": false}, "axis": null}, "x2": {"field": "s1"},
                      "y": {"field": "a0", "type": "quantitative", "scale": {"domain": [-1.118, 6.863], "nice": false, "zero": false}, "axis": null}, "y2": {"field": "a1"}}},
        {"data": {"name": "box"}, "mark": {"type": "rule", "color": "#8c8c8c", "strokeWidth": 1},
         "encoding": {"x": {"field": "s0", "type": "quantitative", "axis": null}, "x2": {"field": "s1"}, "y": {"datum": 0, "type": "quantitative", "axis": null}}},
        {"data": {"name": "ins"}, "transform": [{"filter": "datum.k == 'BR'"}], "mark": {"type": "bar", "color": "#3b2ba5", "width": 6.5},
         "encoding": {"x": {"field": "s", "type": "quantitative", "axis": null}, "y": {"field": "a", "type": "quantitative", "axis": null}, "y2": {"datum": 0}}}
      ]}
    ]
  },
  {
    "hconcat": [
      {
        "width": 370, "height": 277,
        "title": {"text": "(b)", "anchor": "start", "frame": "group", "dx": -104, "dy": 19.5, "offset": -9.5, "baseline": "alphabetic", "font": "Liberation Sans", "fontWeight": "bold", "fontSize": 24, "color": "black"},
        "resolve": {"axis": {"x": "independent", "y": "independent"}},
        "layer": [
          {"data": {"name": "bG"}, "mark": {"type": "line", "color": "#c0c0c0", "strokeWidth": 3},
           "encoding": {
             "x": {"field": "z", "type": "quantitative", "scale": {"domain": [0, 1], "nice": false, "zero": false}, "axis": {"orient": "top", "values": [0, 0.25, 0.5, 0.75, 1], "labels": false, "title": null, "tickSize": -5}},
             "y": {"field": "v", "type": "quantitative", "scale": {"domain": [-8, 8], "nice": false, "zero": false}, "axis": {"orient": "right", "values": [-8, -4, 0, 4, 8], "labels": false, "title": null, "tickSize": -5}},
             "detail": {"field": "s"}
           }},
          {"layer": [
            {"data": {"name": "bBand"}, "mark": {"type": "area", "color": "#c0c0c0", "opacity": 1},
             "encoding": {
               "x": {"field": "z", "type": "quantitative", "axis": {"orient": "bottom", "values": [0, 0.25, 0.5, 0.75, 1], "format": ".2~f", "tickSize": -5, "labelPadding": 12, "title": "z/L", "titleFontStyle": "italic", "titlePadding": 9, "labelFont": "Liberation Serif", "titleFont": "Liberation Serif"}},
               "y": {"field": "hi", "type": "quantitative", "axis": {"orient": "left", "values": [-8, -4, 0, 4, 8], "format": "~g", "tickSize": -5, "labelPadding": 31, "title": "Re(E) (×10⁻³)", "titlePadding": 4, "labelFont": "Liberation Serif", "titleFont": "Liberation Serif"}},
               "y2": {"field": "lo"}
             }},
            {"data": {"name": "bL"}, "mark": {"type": "line", "strokeWidth": 1.3},
             "encoding": {"x": {"field": "z", "type": "quantitative"}, "y": {"field": "v", "type": "quantitative"},
                          "color": {"field": "mode", "type": "nominal", "scale": {"domain": ["I", "II", "III", "IV"], "range": ["#0000ff", "#ff00ff", "#00c000", "#ff0000"]}, "legend": null}}},
            {"data": {"name": "bLab"}, "mark": {"type": "text", "fontSize": 25, "font": "Liberation Serif", "align": "center", "baseline": "middle"},
             "encoding": {"x": {"field": "z", "type": "quantitative"}, "y": {"field": "v", "type": "quantitative"}, "text": {"field": "t"},
                          "color": {"field": "mode", "type": "nominal", "scale": {"domain": ["I", "II", "III", "IV"], "range": ["#0000ff", "#ff00ff", "#00c000", "#ff0000"]}, "legend": null}}},
            {"data": {"name": "bBulk"}, "mark": {"type": "text", "color": "white", "fontSize": 25, "font": "Liberation Serif", "align": "center", "baseline": "alphabetic"},
             "encoding": {"x": {"field": "z", "type": "quantitative"}, "y": {"field": "v", "type": "quantitative"}, "text": {"field": "t"}}},
            {"data": {"name": "bArr"}, "mark": {"type": "rule", "color": "black", "strokeWidth": 2},
             "encoding": {"x": {"field": "z0", "type": "quantitative"}, "x2": {"field": "z1"}, "y": {"field": "v", "type": "quantitative"}}},
            {"data": {"name": "bHead"}, "mark": {"type": "point", "filled": true, "color": "black", "size": 100, "opacity": 1},
             "encoding": {"x": {"field": "z", "type": "quantitative"}, "y": {"field": "v", "type": "quantitative"},
                          "shape": {"field": "dir", "type": "nominal", "scale": {"domain": ["CW", "CCW"], "range": ["triangle-right", "triangle-left"]}, "legend": null}}},
            {"data": {"name": "bTxt"}, "mark": {"type": "text", "color": "black", "fontSize": 25, "font": "Liberation Serif", "align": "left", "baseline": "alphabetic"},
             "encoding": {"x": {"field": "z", "type": "quantitative"}, "y": {"field": "v", "type": "quantitative"}, "text": {"field": "t"}}}
          ]}
        ]
      },
      {
        "width": 368, "height": 277,
        "title": {"text": "(c)", "anchor": "start", "frame": "group", "dx": -105, "dy": 19.5, "offset": -9.5, "baseline": "alphabetic", "font": "Liberation Sans", "fontWeight": "bold", "fontSize": 24, "color": "black"},
        "resolve": {"axis": {"x": "independent", "y": "independent"}},
        "layer": [
          {"data": {"name": "cG"}, "mark": {"type": "line", "color": "#c0c0c0", "strokeWidth": 3},
           "encoding": {
             "x": {"field": "z", "type": "quantitative", "scale": {"domain": [0, 1], "nice": false, "zero": false}, "axis": {"orient": "top", "values": [0, 0.25, 0.5, 0.75, 1], "labels": false, "title": null, "tickSize": -5}},
             "y": {"field": "v", "type": "quantitative", "scale": {"domain": [-6, 6], "nice": false, "zero": false}, "axis": {"orient": "right", "values": [-6, -3, 0, 3, 6], "labels": false, "title": null, "tickSize": -5}},
             "detail": {"field": "s"}
           }},
          {"layer": [
            {"data": {"name": "cBand"}, "mark": {"type": "area", "color": "#c0c0c0", "opacity": 1},
             "encoding": {
               "x": {"field": "z", "type": "quantitative", "axis": {"orient": "bottom", "values": [0, 0.25, 0.5, 0.75, 1], "format": ".2~f", "tickSize": -5, "labelPadding": 12, "title": "z/L", "titleFontStyle": "italic", "titlePadding": 9, "labelFont": "Liberation Serif", "titleFont": "Liberation Serif"}},
               "y": {"field": "hi", "type": "quantitative", "axis": {"orient": "left", "values": [-6, -3, 0, 3, 6], "format": "~g", "tickSize": -5, "labelPadding": 33, "title": "Im(E) (×10⁻³)", "titlePadding": 4, "labelFont": "Liberation Serif", "titleFont": "Liberation Serif"}},
               "y2": {"field": "lo"}
             }},
            {"data": {"name": "cL"}, "mark": {"type": "line", "strokeWidth": 1.3},
             "encoding": {"x": {"field": "z", "type": "quantitative"}, "y": {"field": "v", "type": "quantitative"}, "detail": {"field": "seg"},
                          "color": {"field": "mode", "type": "nominal", "scale": {"domain": ["I", "II", "III", "IV"], "range": ["#0000ff", "#ff00ff", "#00c000", "#ff0000"]}, "legend": null}}},
            {"data": {"name": "cArr"}, "mark": {"type": "rule", "strokeWidth": 2},
             "encoding": {"x": {"field": "z0", "type": "quantitative"}, "y": {"field": "v0", "type": "quantitative"}, "x2": {"field": "z1"}, "y2": {"field": "v1"},
                          "color": {"field": "mode", "type": "nominal", "scale": {"domain": ["I", "II", "III", "IV"], "range": ["#0000ff", "#ff00ff", "#00c000", "#ff0000"]}, "legend": null}}},
            {"data": {"name": "cHead"}, "transform": [{"filter": "datum.mode == 'I'"}], "mark": {"type": "point", "shape": "triangle-up", "filled": true, "color": "#0000ff", "size": 100, "opacity": 1, "angle": 321},
             "encoding": {"x": {"field": "z", "type": "quantitative"}, "y": {"field": "v", "type": "quantitative"}}},
            {"data": {"name": "cHead"}, "transform": [{"filter": "datum.mode == 'IV'"}], "mark": {"type": "point", "shape": "triangle-up", "filled": true, "color": "#ff0000", "size": 100, "opacity": 1, "angle": 39},
             "encoding": {"x": {"field": "z", "type": "quantitative"}, "y": {"field": "v", "type": "quantitative"}}}
          ]}
        ]
      }
    ],
    "spacing": 141,
    "bounds": "flush"
  }
],
"spacing": 101,
"bounds": "flush"
}
